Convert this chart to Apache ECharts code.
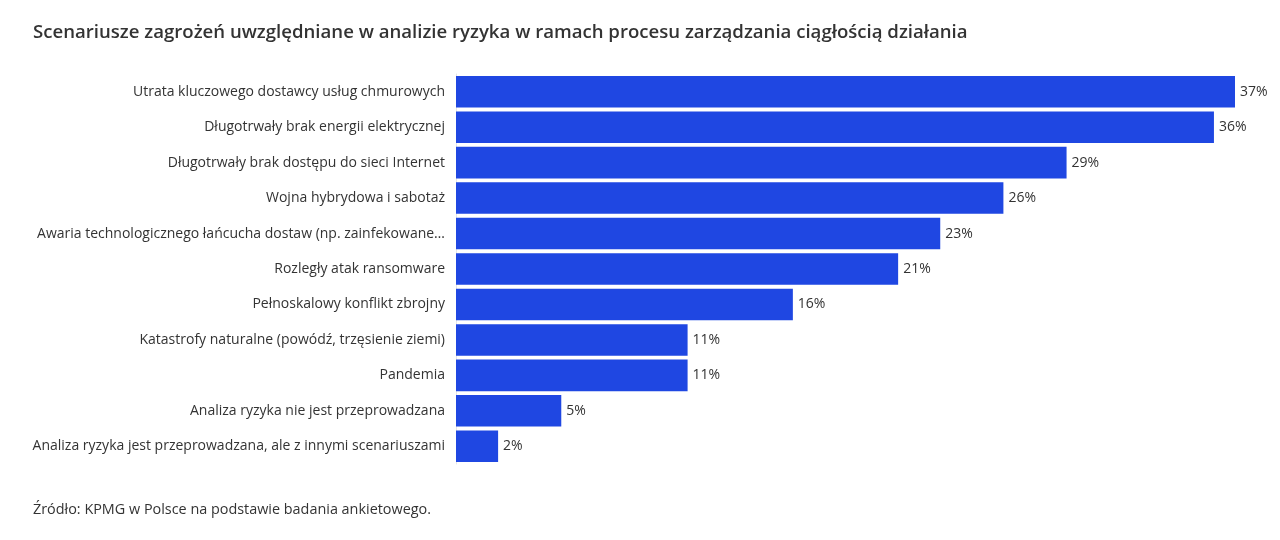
<!DOCTYPE html>
<html>
<head>
<meta charset="utf-8">
<script src="https://cdn.jsdelivr.net/npm/echarts@6/dist/echarts.min.js"></script>
<style>
  html, body { margin: 0; padding: 0; background: #fff; }
  #chart { width: 1280px; height: 540px; }
</style>
</head>
<body>
<div id="chart"></div>
<script>
var categories = [
    'Utrata kluczowego dostawcy usług chmurowych',
    'Długotrwały brak energii elektrycznej',
    'Długotrwały brak dostępu do sieci Internet',
    'Wojna hybrydowa i sabotaż',
    'Awaria technologicznego łańcucha dostaw (np. zainfekowane…',
    'Rozległy atak ransomware',
    'Pełnoskalowy konflikt zbrojny',
    'Katastrofy naturalne (powódź, trzęsienie ziemi)',
    'Pandemia',
    'Analiza ryzyka nie jest przeprowadzana',
    'Analiza ryzyka jest przeprowadzana, ale z innymi scenariuszami'
];
var values = [37, 36, 29, 26, 23, 21, 16, 11, 11, 5, 2];

var chartTitle = 'Scenariusze zagrożeń uwzględniane w analizie ryzyka w ramach procesu zarządzania ciągłością działania';
var sourceText = 'Źródło: KPMG w Polsce na podstawie badania ankietowego.';

var myChart = echarts.init(document.getElementById('chart'));

var option = {
    backgroundColor: '#fff',
    textStyle: { fontFamily: '"Open Sans", sans-serif' },
    title: [
        {
            text: chartTitle, left: 28, top: 18,
            textStyle: { color: '#333', fontSize: 18.6, fontWeight: 600, fontFamily: '"Open Sans", sans-serif' }
        },
        {
            text: sourceText, left: 28, top: 498,
            textStyle: { color: '#333', fontSize: 14.4, fontWeight: 'normal', fontFamily: '"Open Sans", sans-serif' }
        }
    ],
    grid: { left: 456, right: 45, top: 74, bottom: 76, containLabel: false },
    xAxis: {
        type: 'value', min: 0, max: 37,
        show: false
    },
    yAxis: {
        type: 'category',
        inverse: true,
        data: categories,
        axisTick: { show: false },
        axisLine: { show: true, lineStyle: { color: '#e6e6e6', width: 1 } },
        axisLabel: { color: '#333', fontSize: 14, margin: 11, fontFamily: '"Open Sans", sans-serif' },
        splitLine: { show: false }
    },
    series: [{
        type: 'bar',
        data: values,
        barCategoryGap: '11%',
        itemStyle: { color: '#1f47e2' },
        label: {
            show: true, position: 'right', distance: 5,
            formatter: '{c}%', color: '#333', fontSize: 14,
            fontFamily: '"Open Sans", sans-serif'
        },
        silent: true
    }]
};

myChart.setOption(option);
</script>
</body>
</html>
